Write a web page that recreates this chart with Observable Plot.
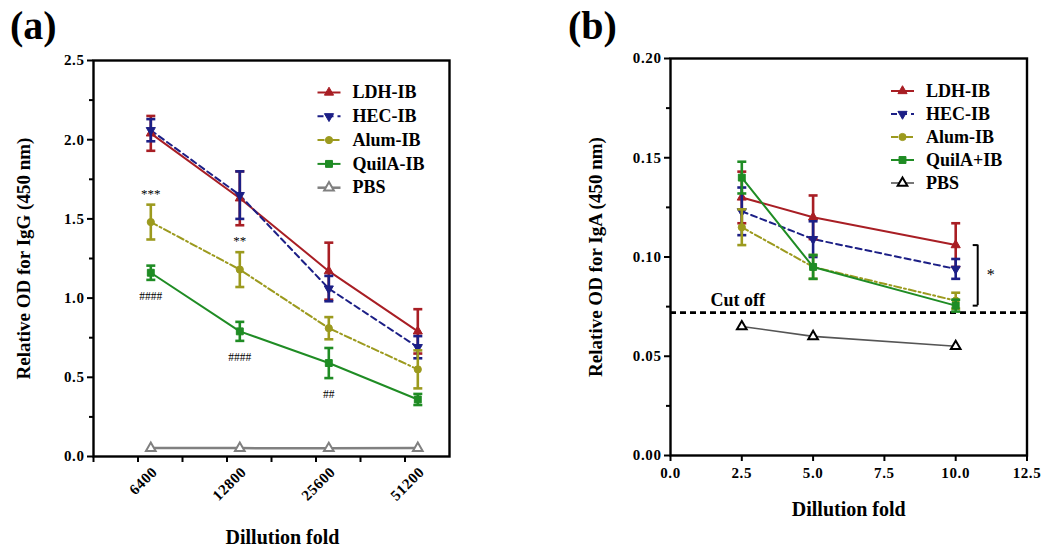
<!DOCTYPE html>
<html>
<head>
<meta charset="utf-8">
<script src="https://cdn.jsdelivr.net/npm/d3@7"></script>
<script src="https://cdn.jsdelivr.net/npm/@observablehq/plot@0.6"></script>
<style>
  body { margin: 0; background: #fff; }
  #wrap { position: relative; width: 1043px; height: 550px; overflow: hidden;
          font-family: "Liberation Serif", "Times New Roman", serif; font-weight: bold; color: #000; }
  .panel { position: absolute; top: 0; }
  .tag { position: absolute; font-size: 40px; line-height: 40px; }
  .panel svg g[aria-label$="tick label"] text { letter-spacing: 0.6px; }
</style>
</head>
<body>
<div id="wrap">
  <div id="pa" class="panel" style="left:0"></div>
  <div id="pb" class="panel" style="left:520px"></div>
  <div class="tag" style="left:10px;top:6px">(a)</div>
  <div class="tag" style="left:568px;top:6px">(b)</div>
</div>
<script>
// ---------- (a) serum IgG ----------
const groupsA = ["LDH-IB", "HEC-IB", "Alum-IB", "QuilA-IB", "PBS"];
const dilutionsA = [6400, 12800, 25600, 51200];
const iggLDH = [2.04, 1.63, 1.17, 0.79];
const iggLDHsd = [0.11, 0.17, 0.18, 0.14];
const iggHEC = [2.06, 1.65, 1.06, 0.69];
const iggHECsd = [0.07, 0.15, 0.08, 0.07];
const iggAlum = [1.48, 1.18, 0.81, 0.55];
const iggAlumsd = [0.11, 0.11, 0.07, 0.12];
const iggQuilA = [1.16, 0.79, 0.59, 0.36];
const iggQuilAsd = [0.045, 0.06, 0.095, 0.035];
const iggPBS = [0.053, 0.053, 0.052, 0.053];
const iggPBSsd = [0, 0, 0, 0];
const yTicksA = [0, 0.5, 1.0, 1.5, 2.0, 2.5];
const yMinorA = [0.25, 0.75, 1.25, 1.75, 2.25];
const xTickExpA = [12, 12.5, 13, 13.5, 14, 14.5, 15, 15.5]; // log2 of dilution
// significance marks: dilution, text, series it refers to, side
const sigX = [6400, 12800, 6400, 12800, 25600];
const sigText = ["***", "**", "####", "####", "##"];
const sigSeries = [2, 2, 3, 3, 3];
const sigAbove = [true, true, false, false, false];

// ---------- (b) IgA ----------
const groupsB = ["LDH-IB", "HEC-IB", "Alum-IB", "QuilA+IB", "PBS"];
const dilutionsB = [2.5, 5.0, 10.0];
const igaLDH = [0.130, 0.120, 0.106];
const igaLDHsd = [0.013, 0.011, 0.011];
const igaHEC = [0.123, 0.109, 0.094];
const igaHECsd = [0.012, 0.009, 0.005];
const igaAlum = [0.115, 0.095, 0.078];
const igaAlumsd = [0.009, 0.006, 0.004];
const igaQuilA = [0.140, 0.095, 0.0755];
const igaQuilAsd = [0.008, 0.006, 0.003];
const igaPBS = [0.065, 0.060, 0.055];
const igaPBSsd = [0, 0, 0];
const cutoff = 0.072;
const xTicksB = [0, 2.5, 5.0, 7.5, 10.0, 12.5];
const yTicksB = [0, 0.05, 0.10, 0.15, 0.20];
const yMinorB = [0.025, 0.075, 0.125, 0.175];

// ---------- styling ----------
const serif = "Liberation Serif, Times New Roman, serif";
const colorsA = ["#a81e24", "#1c1f86", "#9c9a1e", "#1f8c24", "#808080"];
const colorsB = ["#a81e24", "#1c1f86", "#9c9a1e", "#1f8c24", "#000000"];
const dashes = [null, "6,4", "7,3,2,3", null, null];

// marker shapes (down triangle, error-bar cap and legend line are custom)
const triDown = {draw(ctx, size) {
  const y = -Math.sqrt(size / (Math.sqrt(3) * 3)), s3 = Math.sqrt(3);
  ctx.moveTo(0, -y * 2); ctx.lineTo(-s3 * y, y); ctx.lineTo(s3 * y, y); ctx.closePath();
}};
const cap = {draw(ctx) { ctx.moveTo(-4.5, 0); ctx.lineTo(4.5, 0); }};
const legendLine = {draw(ctx) { ctx.moveTo(-11.5, 0); ctx.lineTo(11.5, 0); }};
const bracketArm = {draw(ctx) { ctx.moveTo(-5, 0); ctx.lineTo(0, 0); }};
const markers = [
  {symbol: d3.symbolTriangle, r: 3.4, hollow: false},
  {symbol: triDown, r: 3.4, hollow: false},
  {symbol: d3.symbolCircle, r: 3.6, hollow: false},
  {symbol: d3.symbolSquare, r: 3.9, hollow: false},
  {symbol: d3.symbolTriangle, r: 3.6, hollow: true}
];

const rowsOf = (xs, mean, sd) => xs.map((x, i) => ({x, y: mean[i], lo: mean[i] - sd[i], hi: mean[i] + sd[i], sd: sd[i]}));

function seriesMarks(xs, means, sds, colors, lineColors, lineWidths) {
  const marks = [];
  const data = means.map((m, k) => rowsOf(xs, m, sds[k]));
  data.forEach((rows, k) => {
    marks.push(Plot.line(rows, {x: "x", y: "y", stroke: lineColors[k], strokeWidth: lineWidths[k],
      strokeDasharray: dashes[k] ?? undefined}));
  });
  data.forEach((rows, k) => {
    const err = rows.filter(d => d.sd > 0);
    const c = colors[k], mk = markers[k];
    marks.push(
      Plot.ruleX(err, {x: "x", y1: "lo", y2: "hi", stroke: c, strokeWidth: 2.6}),
      Plot.dot(err, {x: "x", y: "hi", symbol: cap, stroke: c, strokeWidth: 2.6, fill: "none"}),
      Plot.dot(err, {x: "x", y: "lo", symbol: cap, stroke: c, strokeWidth: 2.6, fill: "none"}),
      Plot.dot(rows, {x: "x", y: "y", symbol: mk.symbol, r: mk.r,
        fill: mk.hollow ? "white" : c, stroke: c, strokeWidth: mk.hollow ? 2 : 1})
    );
  });
  return {marks, data};
}

function legendMarks(names, colors, lineColors, lineWidths, dx, dy0, step) {
  const marks = [];
  names.forEach((name, k) => {
    const dy = dy0 + k * step, mk = markers[k];
    marks.push(
      Plot.dot([name], {frameAnchor: "top-left", dx, dy, symbol: legendLine, stroke: lineColors[k],
        strokeWidth: lineWidths[k], strokeDasharray: dashes[k] ?? undefined, fill: "none"}),
      Plot.dot([name], {frameAnchor: "top-left", dx, dy, symbol: mk.symbol, r: mk.r,
        fill: mk.hollow ? "white" : colors[k], stroke: colors[k], strokeWidth: mk.hollow ? 2 : 1}),
      Plot.text([name], {frameAnchor: "top-left", dx: dx + 23.5, dy, text: d => d,
        textAnchor: "start", lineAnchor: "middle", fill: "black",
        fontFamily: serif, fontSize: 18, fontWeight: "bold"})
    );
  });
  return marks;
}

const svgStyle = {fontFamily: serif, fontWeight: "bold",
  fontSize: "14px", background: "white", color: "black", overflow: "visible"};
const tickText = {fontFamily: serif, fontSize: 15, fontWeight: "bold", fill: "black"};

// ---------- panel (a) ----------
{
  const widthsA = [2, 2, 2, 2, 2.5];
  const A = seriesMarks(dilutionsA,
    [iggLDH, iggHEC, iggAlum, iggQuilA, iggPBS],
    [iggLDHsd, iggHECsd, iggAlumsd, iggQuilAsd, iggPBSsd], colorsA, colorsA, widthsA);
  const sig = sigX.map((x, i) => {
    const r = A.data[sigSeries[i]].find(d => d.x === x);
    return {x, text: sigText[i], y: sigAbove[i] ? r.hi : r.lo, above: sigAbove[i]};
  });
  const chart = Plot.plot({
    width: 520, height: 550,
    marginLeft: 93, marginRight: 71, marginTop: 60, marginBottom: 94,
    style: svgStyle,
    x: {type: "log", base: 2, domain: [4096, 65536]},
    y: {domain: [0, 2.5]},
    marks: [
      Plot.axisY(yTicksA, {tickSize: 6, tickPadding: 3, strokeWidth: 2, tickFormat: d3.format(".1f"),
        ...tickText, label: null}),
      Plot.axisY(yMinorA, {tickSize: 4, strokeWidth: 2, tickFormat: () => "", label: null}),
      Plot.axisX(xTickExpA.map(e => 2 ** e), {tickSize: 6, strokeWidth: 2, tickFormat: () => "", label: null}),
      Plot.axisX(dilutionsA, {tickSize: 0, tickPadding: 13, dx: 4, tickRotate: -45, tickFormat: d => String(d),
        ...tickText, label: null}),
      ...A.marks,
      Plot.text(sig.filter(d => d.above), {x: "x", y: "y", text: "text", dy: -11, fill: "black",
        fontFamily: serif, fontSize: 13, fontWeight: "normal"}),
      Plot.text(sig.filter(d => !d.above), {x: "x", y: "y", text: "text", dy: 16, fill: "black",
        fontFamily: serif, fontSize: 11.5, fontWeight: "normal"}),
      Plot.frame({stroke: "black", strokeWidth: 2.4}),
      ...legendMarks(groupsA, colorsA, colorsA, widthsA, 235.5, 32, 23.8),
      Plot.text(["Relative OD for IgG (450 nm)"], {frameAnchor: "left", rotate: -90, dx: -70, text: d => d,
        textAnchor: "middle", lineAnchor: "middle", fill: "black",
        fontFamily: serif, fontSize: 19, fontWeight: "bold"}),
      Plot.text(["Dillution fold"], {frameAnchor: "bottom", dx: 11, dy: 81, text: d => d,
        textAnchor: "middle", lineAnchor: "middle", fill: "black",
        fontFamily: serif, fontSize: 20, fontWeight: "bold"})
    ]
  });
  document.getElementById("pa").append(chart);
}

// ---------- panel (b) ----------
{
  const lineB = colorsB.slice(0, 4).concat(["#555555"]);
  const widthsB = [2, 2, 2, 2, 1.6];
  const B = seriesMarks(dilutionsB,
    [igaLDH, igaHEC, igaAlum, igaQuilA, igaPBS],
    [igaLDHsd, igaHECsd, igaAlumsd, igaQuilAsd, igaPBSsd], colorsB, lineB, widthsB);
  const last = dilutionsB.length - 1;
  const bracket = {x: dilutionsB[last], top: igaLDH[last], bottom: igaQuilA[last]};
  const chart = Plot.plot({
    width: 523, height: 550,
    marginLeft: 150, marginRight: 16.5, marginTop: 58, marginBottom: 95,
    style: svgStyle,
    x: {domain: [0, 12.5]},
    y: {domain: [0, 0.2]},
    marks: [
      Plot.axisY(yTicksB, {tickSize: 6, tickPadding: 3, strokeWidth: 2, tickFormat: d3.format(".2f"),
        ...tickText, label: null}),
      Plot.axisY(yMinorB, {tickSize: 4, strokeWidth: 2, tickFormat: () => "", label: null}),
      Plot.axisX(xTicksB, {tickSize: 6, tickPadding: 6, strokeWidth: 2, tickFormat: d3.format(".1f"),
        ...tickText, label: null}),
      Plot.ruleY([cutoff], {stroke: "black", strokeWidth: 2.6, strokeDasharray: "6,4"}),
      Plot.text([cutoff], {y: d => d, frameAnchor: "left", dx: 40, dy: -7, text: () => "Cut off",
        textAnchor: "start", lineAnchor: "bottom", fill: "black",
        fontFamily: serif, fontSize: 18, fontWeight: "bold"}),
      ...B.marks,
      Plot.ruleX([bracket], {x: "x", y1: "bottom", y2: "top", dx: 22, stroke: "black", strokeWidth: 2}),
      Plot.dot([bracket], {x: "x", y: "top", dx: 22, symbol: bracketArm, stroke: "black", strokeWidth: 2, fill: "none"}),
      Plot.dot([bracket], {x: "x", y: "bottom", dx: 22, symbol: bracketArm, stroke: "black", strokeWidth: 2, fill: "none"}),
      Plot.text([bracket], {x: "x", y: d => (d.top + d.bottom) / 2, dx: 35, text: () => "*", fill: "black",
        fontFamily: serif, fontSize: 16, fontWeight: "normal"}),
      Plot.frame({stroke: "black", strokeWidth: 2.4}),
      ...legendMarks(groupsB, colorsB, lineB, widthsB, 232, 32.5, 23),
      Plot.text(["Relative OD for IgA (450 nm)"], {frameAnchor: "left", rotate: -90, dx: -75, text: d => d,
        textAnchor: "middle", lineAnchor: "middle", fill: "black",
        fontFamily: serif, fontSize: 19, fontWeight: "bold"}),
      Plot.text(["Dillution fold"], {frameAnchor: "bottom", dy: 54, text: d => d,
        textAnchor: "middle", lineAnchor: "middle", fill: "black",
        fontFamily: serif, fontSize: 20, fontWeight: "bold"})
    ]
  });
  document.getElementById("pb").append(chart);
}
</script>
</body>
</html>
